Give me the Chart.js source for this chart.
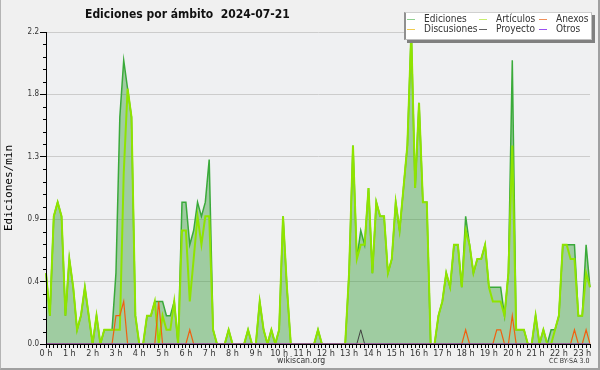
<!DOCTYPE html>
<html>
<head>
<meta charset="utf-8">
<script src="https://cdn.jsdelivr.net/npm/chart.js@4.4.1/dist/chart.umd.min.js"></script>
<style>
  html, body { margin: 0; padding: 0; background: #f0f0f0; }
  #wrap { position: relative; width: 600px; height: 370px; overflow: hidden; background: #f0f0f0; }
  #c { position: absolute; left: 0; top: 0; }
  .txt { position: absolute; white-space: nowrap; font-family: "DejaVu Sans Condensed", "DejaVu Sans", sans-serif; color: #222; }
  #title { left: 85px; top: 7px; font-size: 12px; line-height: 14px; font-weight: bold; color: #111; }
  #legend { position: absolute; left: 404px; top: 12px; width: 185px; height: 26px; background: #fff; border-top: 1px solid #d0d0d0; border-left: 2px solid #909090; border-right: 1px solid #c0c0c0; border-bottom: 1px solid #c0c0c0; box-shadow: 3px 3px 0 #808080; }
  .li { position: absolute; font-size: 10px; line-height: 10px; color: #333; font-family: "DejaVu Sans Condensed", "DejaVu Sans", sans-serif; white-space: nowrap; }
  .sw { position: absolute; height: 1px; width: 8px; }
  #site { left: 277px; top: 356px; font-size: 8.6px; line-height: 9px; color: #333; }
  #lic { left: 549px; top: 358px; font-size: 7px; line-height: 7px; color: #333; }
  #frame { position: absolute; left: 0; top: 0; width: 600px; height: 370px; box-sizing: border-box; border-left: 1px solid #b4b4b4; border-right: 2px solid #a0a0a0; border-bottom: 2px solid #a0a0a0; pointer-events: none; }
</style>
</head>
<body>
<div id="wrap">
  <canvas id="c" width="600" height="370"></canvas>
  <div id="title" class="txt">Ediciones por ámbito&nbsp;&nbsp;2024-07-21</div>
  <div id="legend"></div>
  <div id="site" class="txt">wikiscan.org</div>
  <div id="lic" class="txt">CC BY-SA 3.0</div>
  <div id="frame"></div>
</div>
<script>
// ---- data (10-minute bins, edits per minute) ----
const hourLabels = ['0 h','1 h','2 h','3 h','4 h','5 h','6 h','7 h','8 h','9 h','10 h','11 h',
  '12 h','13 h','14 h','15 h','16 h','17 h','18 h','19 h','20 h','21 h','22 h','23 h'];

const yTickValues = [0, 0.44, 0.88, 1.32, 1.76, 2.2];
const yTickLabels = ['0.0', '0.4', '0.9', '1.3', '1.8', '2.2'];

const ediciones = [
  0.5,0.2,0.9,1.0,0.9,0.2,0.6,0.4,0.1,0.2,
  0.4,0.2,0,0.2,0,0.1,0.1,0.1,0.5,1.6,
  2.0,1.8,1.6,0.2,0,0,0.2,0.2,0.3,0.3,
  0.3,0.2,0.2,0.3,0,1.0,1.0,0.7,0.8,1.0,
  0.9,1.0,1.3,0.1,0,0,0,0.1,0,0,
  0,0,0.1,0,0,0.3,0.1,0,0.1,0,
  0.1,0.9,0.4,0,0,0,0,0,0,0,
  0.1,0,0,0,0,0,0,0,0.5,1.4,
  0.6,0.8,0.7,1.1,0.5,1.0,0.9,0.9,0.5,0.6,
  1.0,0.8,1.1,1.4,2.2,1.1,1.7,1.0,1.0,0,
  0,0.2,0.3,0.5,0.4,0.7,0.7,0.4,0.9,0.7,
  0.5,0.6,0.6,0.7,0.4,0.4,0.4,0.4,0.2,0.5,
  2.0,0.1,0.1,0.1,0,0,0.2,0,0.1,0,
  0.1,0.1,0.2,0.7,0.7,0.7,0.7,0.2,0.2,0.7,
  0.4
];
const articulos = [
  0.5,0.2,0.9,1.0,0.9,0.2,0.6,0.4,0.1,0.2,
  0.4,0.2,0,0.2,0,0.1,0.1,0.1,0.1,0.1,
  1.2,1.8,1.6,0.2,0,0,0.2,0.2,0.3,0,
  0.2,0.1,0.1,0.3,0,0.8,0.8,0.3,0.6,0.9,
  0.7,0.9,0.9,0.1,0,0,0,0.1,0,0,
  0,0,0.1,0,0,0.3,0.1,0,0.1,0,
  0.1,0.9,0.4,0,0,0,0,0,0,0,
  0.1,0,0,0,0,0,0,0,0.5,1.4,
  0.6,0.7,0.7,1.1,0.5,1.0,0.9,0.9,0.5,0.6,
  1.0,0.8,1.1,1.4,2.2,1.1,1.7,1.0,1.0,0,
  0,0.2,0.3,0.5,0.4,0.7,0.7,0.4,0.8,0.7,
  0.5,0.6,0.6,0.7,0.4,0.3,0.3,0.3,0.2,0.5,
  1.4,0.1,0.1,0.1,0,0,0.2,0,0.1,0,
  0,0.1,0.2,0.7,0.7,0.6,0.6,0.2,0.2,0.5,
  0.4
];
const anexos = [
  0,0,0,0,0,0,0,0,0,0,
  0,0,0,0,0,0,0,0,0.2,0.2,
  0.3,0,0,0,0,0,0,0,0,0.3,
  0,0,0,0,0,0,0,0.1,0,0,
  0,0,0,0,0,0,0,0,0,0,
  0,0,0,0,0,0,0,0,0,0,
  0,0,0,0,0,0,0,0,0,0,
  0,0,0,0,0,0,0,0,0,0,
  0,0,0,0,0,0,0,0,0,0,
  0,0,0,0,0,0,0,0,0,0,
  0,0,0,0,0,0,0,0,0.1,0,
  0,0,0,0,0,0,0.1,0.1,0,0,
  0.2,0,0,0,0,0,0,0,0,0,
  0,0,0,0,0,0,0.1,0,0,0.1,
  0
];
const proyecto = [
  0,0,0,0,0,0,0,0,0,0,
  0,0,0,0,0,0,0,0,0,0,
  0,0,0,0,0,0,0,0,0,0,
  0,0,0,0,0,0,0,0,0,0,
  0,0,0,0,0,0,0,0,0,0,
  0,0,0,0,0,0,0,0,0,0,
  0,0,0,0,0,0,0,0,0,0,
  0,0,0,0,0,0,0,0,0,0,
  0,0.1,0,0,0,0,0,0,0,0,
  0,0,0,0,0,0,0,0,0,0,
  0,0,0,0,0,0,0,0,0,0,
  0,0,0,0,0,0,0,0,0,0,
  0,0,0,0,0,0,0,0,0,0,
  0,0,0,0,0,0,0,0,0,0,
  0
];
const discusiones = new Array(141).fill(0);
const otros = new Array(141).fill(0);

// category labels: 10-minute slots from 00:00 to 23:20
const timeSlots = [];
for (let h = 0; h < 24; h++) {
  for (let m = 0; m < 60; m += 10) {
    if (timeSlots.length < ediciones.length) timeSlots.push(String(h).padStart(2,'0') + ':' + String(m).padStart(2,'0'));
  }
}

const legendItems = [
  { label: 'Ediciones',   color: '#8fd08f', col: 0, row: 0 },
  { label: 'Artículos',   color: '#c8ee70', col: 1, row: 0 },
  { label: 'Anexos',      color: '#f0905a', col: 2, row: 0 },
  { label: 'Discusiones', color: '#f0cc50', col: 0, row: 1 },
  { label: 'Proyecto',    color: '#606060', col: 1, row: 1 },
  { label: 'Otros',       color: '#9a50f0', col: 2, row: 1 }
];

// ---- legend (HTML) ----
(function () {
  const lg = document.getElementById('legend');
  const colX = [1, 73, 133];
  const rowY = [5, 15];
  legendItems.forEach(it => {
    const sw = document.createElement('div');
    sw.className = 'sw';
    sw.style.left = colX[it.col] + 'px';
    sw.style.top = (rowY[it.row] + 1) + 'px';
    sw.style.background = it.color;
    lg.appendChild(sw);
    const t = document.createElement('div');
    t.className = 'li';
    t.style.left = (colX[it.col] + 17) + 'px';
    t.style.top = (rowY[it.row] - 4) + 'px';
    t.textContent = it.label;
    lg.appendChild(t);
  });
})();

// ---- plugin: plot background, axis lines on top, minor y ticks ----
const axisPlugin = {
  id: 'axisPlugin',
  beforeDraw(chart) {
    const { ctx, chartArea: a } = chart;
    ctx.save();
    ctx.fillStyle = '#eff0f2';
    ctx.fillRect(a.left, a.top, a.right - a.left, a.bottom - a.top);
    ctx.restore();
  },
  afterDatasetsDraw(chart) {
    const { ctx, chartArea: a, scales } = chart;
    const ys = scales.y;
    ctx.save();
    ctx.strokeStyle = '#000';
    ctx.lineWidth = 1;
    ctx.beginPath();
    ctx.moveTo(a.left + 0.5, a.top);
    ctx.lineTo(a.left + 0.5, a.bottom + 0.5);
    ctx.lineTo(a.right, a.bottom + 0.5);
    ctx.stroke();
    ctx.beginPath();
    for (let i = 0; i < yTickValues.length - 1; i++) {
      const v0 = yTickValues[i], v1 = yTickValues[i + 1];
      for (let k = 1; k < 5; k++) {
        const py = Math.round(ys.getPixelForValue(v0 + (v1 - v0) * k / 5)) + 0.5;
        ctx.moveTo(a.left - 3, py);
        ctx.lineTo(a.left, py);
      }
    }
    ctx.stroke();
    ctx.restore();
  }
};

const tickFont = { family: '"DejaVu Sans Condensed", "DejaVu Sans", sans-serif', size: 9 };

new Chart(document.getElementById('c'), {
  type: 'line',
  data: {
    labels: timeSlots,
    datasets: [
      { label: 'Ediciones', data: ediciones, borderColor: '#3aaa3a', borderWidth: 1.5,
        backgroundColor: 'rgba(62,160,62,0.45)', fill: 'origin', order: 5 },
      { label: 'Artículos', data: articulos, borderColor: '#8fe400', borderWidth: 2, fill: false, order: 4 },
      { label: 'Discusiones', data: discusiones, borderColor: '#f0cc50', borderWidth: 1, fill: false, order: 3 },
      { label: 'Anexos', data: anexos, borderColor: '#f06010', borderWidth: 1.2, fill: false, order: 2 },
      { label: 'Proyecto', data: proyecto, borderColor: '#404040', borderWidth: 1, fill: false, order: 1 },
      { label: 'Otros', data: otros, borderColor: '#9a50f0', borderWidth: 1, fill: false, order: 0 }
    ]
  },
  options: {
    responsive: false,
    animation: false,
    devicePixelRatio: 1,
    elements: { point: { radius: 0 }, line: { tension: 0 } },
    layout: { padding: { left: 0, right: 10, top: 32, bottom: 0 } },
    plugins: { legend: { display: false }, tooltip: { enabled: false }, title: { display: false } },
    scales: {
      x: {
        type: 'category',
        offset: false,
        grid: { drawOnChartArea: false, drawTicks: true, tickLength: 4, tickColor: '#000' },
        border: { display: true, color: '#000', width: 1 },
        ticks: {
          autoSkip: false, maxRotation: 0, minRotation: 0, padding: 0,
          color: '#333', font: tickFont,
          callback: function (value, index) { return index % 6 === 0 ? hourLabels[index / 6] : ''; }
        },
        afterFit(scale) { scale.height = 26; }
      },
      y: {
        type: 'linear',
        min: 0, max: 2.2,
        grid: { color: '#cccccc', lineWidth: 1, drawTicks: true, tickLength: 6, tickColor: '#000' },
        border: { display: true, color: '#000', width: 1 },
        ticks: {
          padding: 1, color: '#333', font: { family: '"DejaVu Sans Condensed", "DejaVu Sans", sans-serif', size: 8 },
          callback: function (value, index) { return yTickLabels[index]; }
        },
        afterBuildTicks(scale) { scale.ticks = yTickValues.map(v => ({ value: v })); },
        title: {
          display: true, text: 'Ediciones/min', color: '#000',
          font: { family: '"DejaVu Sans Mono", monospace', size: 11 },
          padding: { top: 3, bottom: 0 }
        },
        afterFit(scale) { scale.width = 46; }
      }
    }
  },
  plugins: [axisPlugin]
});
</script>
</body>
</html>
